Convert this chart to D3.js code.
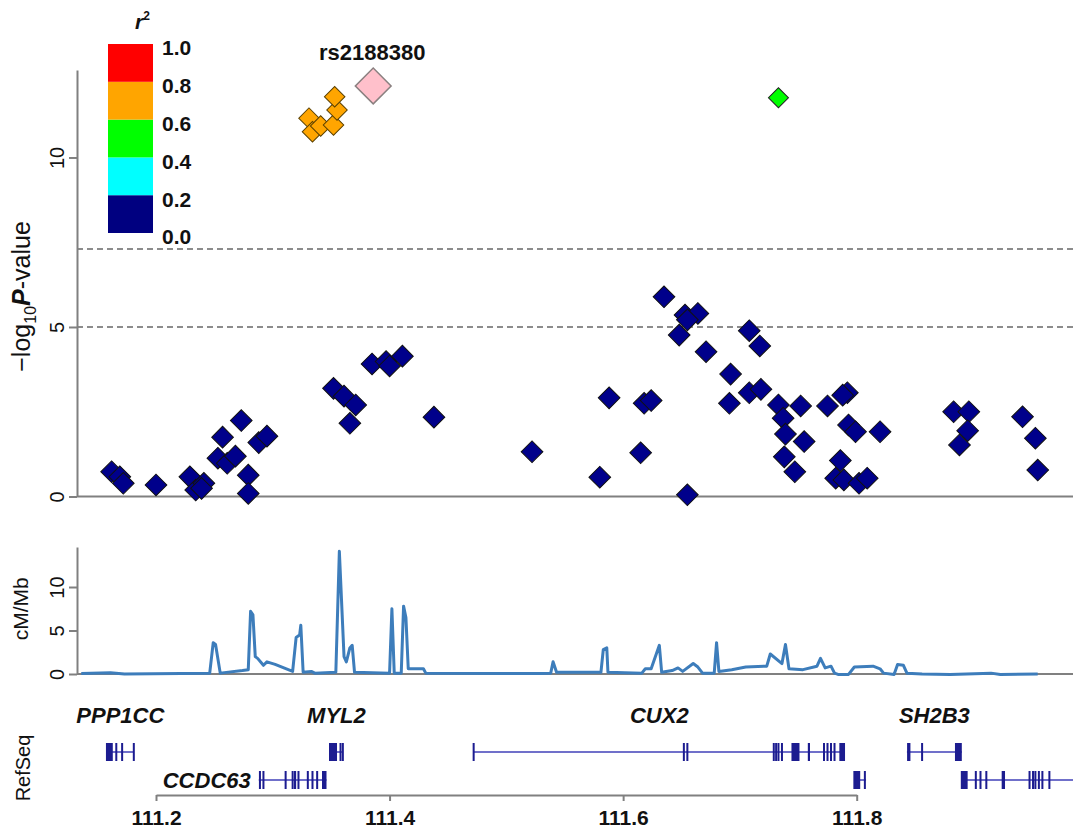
<!DOCTYPE html>
<html>
<head>
<meta charset="utf-8">
<script src="https://cdn.jsdelivr.net/npm/d3@7"></script>
<style>
body { margin: 0; background: #fff; }
text { font-family: "Liberation Sans", Arial, Helvetica, sans-serif; fill: #111; }
</style>
</head>
<body>
<svg id="chart" width="1073" height="832"></svg>
<script>
// SNPs by LD class (position in Mb, -log10 P)
const navyPos = [111.162,111.169,111.172,111.200,111.229,111.234,111.241,111.239,111.253,111.257,
  111.261,111.268,111.273,111.279,111.279,111.288,111.295,111.352,111.361,111.371,111.366,111.385,
  111.397,111.400,111.411,111.438,111.522,111.580,111.588,111.615,111.618,111.624,111.655,111.635,
  111.653,111.664,111.655,111.648,111.671,111.692,111.691,111.708,111.717,111.708,111.718,111.733,
  111.737,111.739,111.752,111.755,111.738,111.747,111.775,111.792,111.788,111.793,111.799,111.820,
  111.786,111.782,111.789,111.802,111.809,111.883,111.896,111.895,111.888,111.942,111.953,111.955]
const navyLogP = [0.73,0.58,0.39,0.34,0.58,0.19,0.39,0.24,1.13,1.75,
  0.98,1.19,2.24,0.63,0.09,1.59,1.78,3.19,2.96,2.70,2.16,3.91,
  3.98,3.85,4.14,2.34,1.32,0.57,2.91,1.29,2.75,2.83,0.05,5.89,
  5.35,5.40,5.21,4.76,4.27,3.61,2.75,4.89,4.44,3.06,3.16,2.70,
  2.31,1.84,2.67,1.62,1.17,0.73,2.67,3.06,2.99,2.11,1.91,1.91,
  1.06,0.54,0.49,0.39,0.54,2.50,2.50,1.94,1.52,2.35,1.72,0.78]
const orangePos = [111.331,111.334,111.341,111.352,111.355,111.353]
const orangeLogP = [11.16,10.76,10.93,10.96,11.40,11.79]
const greenPos = [111.733]
const greenLogP = [11.76]
const leadPos = [111.386]
const leadLogP = [12.11]
const leadName = "rs2188380"

// recombination rate (Mb, cM/Mb)
const recombPos = [111.136,111.161,111.173,111.246,111.249,111.251,111.255,111.274,111.279,111.281,
  111.283,111.285,111.287,111.292,111.295,111.302,111.317,111.320,111.323,111.324,111.326,111.333,
  111.336,111.354,111.357,111.361,111.363,111.366,111.368,111.370,111.400,111.402,111.404,111.410,
  111.412,111.414,111.416,111.429,111.431,111.529,111.538,111.540,111.543,111.581,111.583,111.586,
  111.587,111.616,111.619,111.624,111.631,111.633,111.642,111.647,111.651,111.660,111.664,111.668,
  111.678,111.680,111.682,111.693,111.705,111.723,111.726,111.736,111.739,111.742,111.754,111.766,
  111.769,111.773,111.778,111.781,111.784,111.793,111.798,111.814,111.820,111.823,111.832,111.835,
  111.840,111.843,111.856,111.880,111.915,111.923,111.955]
const recombRate = [0.05,0.15,0.0,0.1,3.6,3.4,0.1,0.4,0.5,7.2,
  6.8,2.0,1.8,1.0,1.4,1.1,0.3,4.2,4.5,5.6,0.2,0.3,
  0.1,0.2,14.1,2.0,1.4,3.0,3.3,0.2,0.1,7.5,0.1,0.1,
  7.8,6.5,0.6,0.6,0.1,0.05,0.1,1.4,0.2,0.2,2.8,3.0,
  0.2,0.1,0.6,0.6,3.3,0.2,0.4,0.7,0.3,1.2,0.8,0.1,
  0.1,3.6,0.3,0.5,0.8,0.9,2.3,1.2,3.4,0.6,0.5,0.9,
  1.8,0.7,0.9,0.1,-0.05,-0.05,0.8,0.9,0.6,0.1,-0.05,1.1,
  1.0,0.1,0.0,-0.05,0.1,-0.05,0.0]

// RefSeq genes
const geneNames = ["PPP1CC","MYL2","CCDC63","CUX2","","SH2B3",""]
const geneStart = [111.158,111.349,111.288,111.472,111.798,111.843,111.890]
const geneEnd = [111.181,111.360,111.346,111.790,111.808,111.890,112.05]
const geneRow = [1,1,2,1,2,1,2]
const geneExons = [
  [[111.158,111.163],[111.166,111.166],[111.171,111.171],[111.181,111.181]],
  [[111.349,111.355],[111.358,111.358],[111.360,111.360]],
  [[111.289,111.289],[111.292,111.292],[111.311,111.311],[111.317,111.317],[111.319,111.320],
   [111.322,111.322],[111.330,111.330],[111.334,111.334],[111.338,111.338],[111.343,111.346]],
  [[111.472,111.472],[111.652,111.652],[111.655,111.655],[111.729,111.729],[111.731,111.731],
   [111.733,111.733],[111.736,111.736],[111.745,111.751],[111.759,111.760],[111.772,111.772],
   [111.775,111.775],[111.778,111.778],[111.781,111.781],[111.786,111.790]],
  [[111.798,111.800],[111.800,111.803],[111.807,111.807]],
  [[111.844,111.846],[111.856,111.856],[111.885,111.890]],
  [[111.890,111.895],[111.902,111.902],[111.906,111.906],[111.911,111.911],[111.925,111.927],
   [111.948,111.948],[111.951,111.951],[111.953,111.953],[111.956,111.956],[111.959,111.959],
   [111.965,111.965]]
]

// legend
const r2Breaks = ["0.0","0.2","0.4","0.6","0.8","1.0"]
const r2Colors = ["#000080","#00ffff","#00ff00","#ffa500","#ff0000"]

const xTicks = [111.2,111.4,111.6,111.8]
const pTicks = [0,5,10]
const rTicks = [0,5,10]
const sigLines = [7.3,5]

const svg = d3.select("#chart")
const axisColor = "#808080"
const left = 77, right = 1073

const x = d3.scaleLinear().domain([111.2,111.8]).range([156,856.7])
const yP = d3.scaleLinear().domain([0,12.58]).range([496.5,70])
const yR = d3.scaleLinear().domain([0,14.6]).range([674,547])
const rowY = {1: 752, 2: 780}

function leftAxis(scale, ticks) {
  const g = svg.append("g")
    .attr("transform", `translate(${left},0)`)
    .call(d3.axisLeft(scale).tickValues(ticks).tickSize(8).tickSizeOuter(0))
  g.select(".domain").attr("stroke", axisColor).attr("stroke-width", 2)
  g.selectAll(".tick line").attr("stroke", axisColor).attr("stroke-width", 2)
  g.selectAll(".tick text")
    .attr("x", 0).attr("dy", "0.35em")
    .attr("text-anchor", "middle")
    .attr("transform", "translate(-20,0) rotate(-90)")
    .attr("font-size", 20)
}

// ---- association panel
svg.append("line")
  .attr("x1", left).attr("x2", right)
  .attr("y1", yP(0)).attr("y2", yP(0))
  .attr("stroke", axisColor).attr("stroke-width", 2)

svg.selectAll(".sig")
  .data(sigLines)
  .enter()
  .append("line")
  .attr("x1", left).attr("x2", right)
  .attr("y1", d => yP(d)).attr("y2", d => yP(d))
  .attr("stroke", "#8c8c8c").attr("stroke-width", 1.8)
  .attr("stroke-dasharray", "6,4")

leftAxis(yP, pTicks)

svg.append("text")
  .attr("transform", `translate(30,${yP(5.9)}) rotate(-90)`)
  .attr("text-anchor", "middle")
  .attr("font-size", 25)
  .call(t => {
    t.append("tspan").text("\u2212log")
    t.append("tspan").text("10").attr("font-size", 16).attr("dy", 6)
    t.append("tspan").text("P").attr("font-weight", "bold").attr("font-style", "italic").attr("dy", -6)
    t.append("tspan").text("-value")
  })

function diamonds(pos, vals, size, fill, stroke, sw) {
  svg.append("g")
    .selectAll("path")
    .data(pos.map((p, i) => [p, vals[i]]))
    .enter()
    .append("path")
    .attr("d", d3.symbol().type(d3.symbolSquare).size(size))
    .attr("transform", d => `translate(${x(d[0])},${yP(d[1])}) rotate(45)`)
    .attr("fill", fill)
    .attr("stroke", stroke)
    .attr("stroke-width", sw)
}

diamonds(navyPos, navyLogP, 235, "#00008b", "#111", 1)
diamonds(orangePos, orangeLogP, 210, "#ffa500", "#5a4000", 1)
diamonds(greenPos, greenLogP, 200, "#00ff00", "#222", 1)
diamonds(leadPos, leadLogP, 640, "#ffc0cb", "#8a8080", 1.5)

svg.append("text")
  .attr("x", x(leadPos[0]) - 1).attr("y", 60)
  .attr("text-anchor", "middle")
  .attr("font-size", 22).attr("font-weight", "bold")
  .text(leadName)

// legend
const legY = d3.scaleLinear().domain([0,5]).range([233,44])
svg.append("g")
  .selectAll("rect")
  .data(r2Colors)
  .enter()
  .append("rect")
  .attr("x", 108).attr("width", 45)
  .attr("y", (d, i) => legY(i + 1))
  .attr("height", (d, i) => legY(i) - legY(i + 1))
  .attr("fill", d => d)

svg.append("g")
  .selectAll("text")
  .data(r2Breaks)
  .enter()
  .append("text")
  .attr("x", 162)
  .attr("y", (d, i) => legY(i) + 4)
  .attr("dy", "0.35em")
  .attr("font-size", 21).attr("font-weight", "bold")
  .text(d => d)

svg.append("text")
  .attr("x", 135).attr("y", 29)
  .attr("font-size", 21).attr("font-style", "italic").attr("font-weight", "bold")
  .call(t => {
    t.append("tspan").text("r")
    t.append("tspan").text("2").attr("font-size", 12).attr("dy", -9).attr("font-style", "normal")
  })

// ---- recombination panel
svg.append("line")
  .attr("x1", left).attr("x2", right)
  .attr("y1", yR(0)).attr("y2", yR(0))
  .attr("stroke", axisColor).attr("stroke-width", 2)

leftAxis(yR, rTicks)

svg.append("path")
  .datum(recombPos.map((p, i) => [p, recombRate[i]]))
  .attr("d", d3.line().x(d => x(d[0])).y(d => yR(d[1])))
  .attr("fill", "none")
  .attr("stroke", "#3d7dbb")
  .attr("stroke-width", 3)
  .attr("stroke-linejoin", "round")

svg.append("text")
  .attr("transform", `translate(28,${yR(7.5)}) rotate(-90)`)
  .attr("text-anchor", "middle")
  .attr("font-size", 21)
  .text("cM/Mb")

// ---- gene panel
const genes = geneNames.map((n, i) => ({
  name: n, start: geneStart[i], end: geneEnd[i], row: geneRow[i], exons: geneExons[i]
}))

const gg = svg.append("g")
genes.forEach(g => {
  const cy = rowY[g.row]
  gg.append("line")
    .attr("x1", x(g.start)).attr("x2", x(g.end))
    .attr("y1", cy).attr("y2", cy)
    .attr("stroke", "#4040b8").attr("stroke-width", 1.5)
  gg.selectAll(null)
    .data(g.exons)
    .enter()
    .append("rect")
    .attr("x", d => x(d[0]) - 1)
    .attr("width", d => Math.max(2, x(d[1]) - x(d[0]) + 1))
    .attr("y", cy - 9).attr("height", 18)
    .attr("fill", "#1c1c90")
  if (!g.name) return
  const lab = gg.append("text")
    .attr("font-size", 22).attr("font-weight", "bold").attr("font-style", "italic")
    .text(g.name)
  if (g.row === 1) {
    lab.attr("x", x((g.start + g.end) / 2)).attr("y", 723).attr("text-anchor", "middle")
  } else {
    lab.attr("x", x(g.start) - 8).attr("y", cy + 8).attr("text-anchor", "end")
  }
})

const xa = svg.append("g")
  .attr("transform", "translate(0,795)")
  .call(d3.axisBottom(x).tickValues(xTicks).tickSize(6).tickSizeOuter(0).tickPadding(9)
    .tickFormat(d3.format(".1f")))
xa.select(".domain").attr("stroke", axisColor).attr("stroke-width", 2)
xa.selectAll(".tick line").attr("stroke", axisColor).attr("stroke-width", 2)
xa.selectAll(".tick text").attr("font-size", 21).attr("font-weight", "bold")

svg.append("text")
  .attr("transform", "translate(30,768) rotate(-90)")
  .attr("text-anchor", "middle")
  .attr("font-size", 20)
  .text("RefSeq")
</script>
</body>
</html>
